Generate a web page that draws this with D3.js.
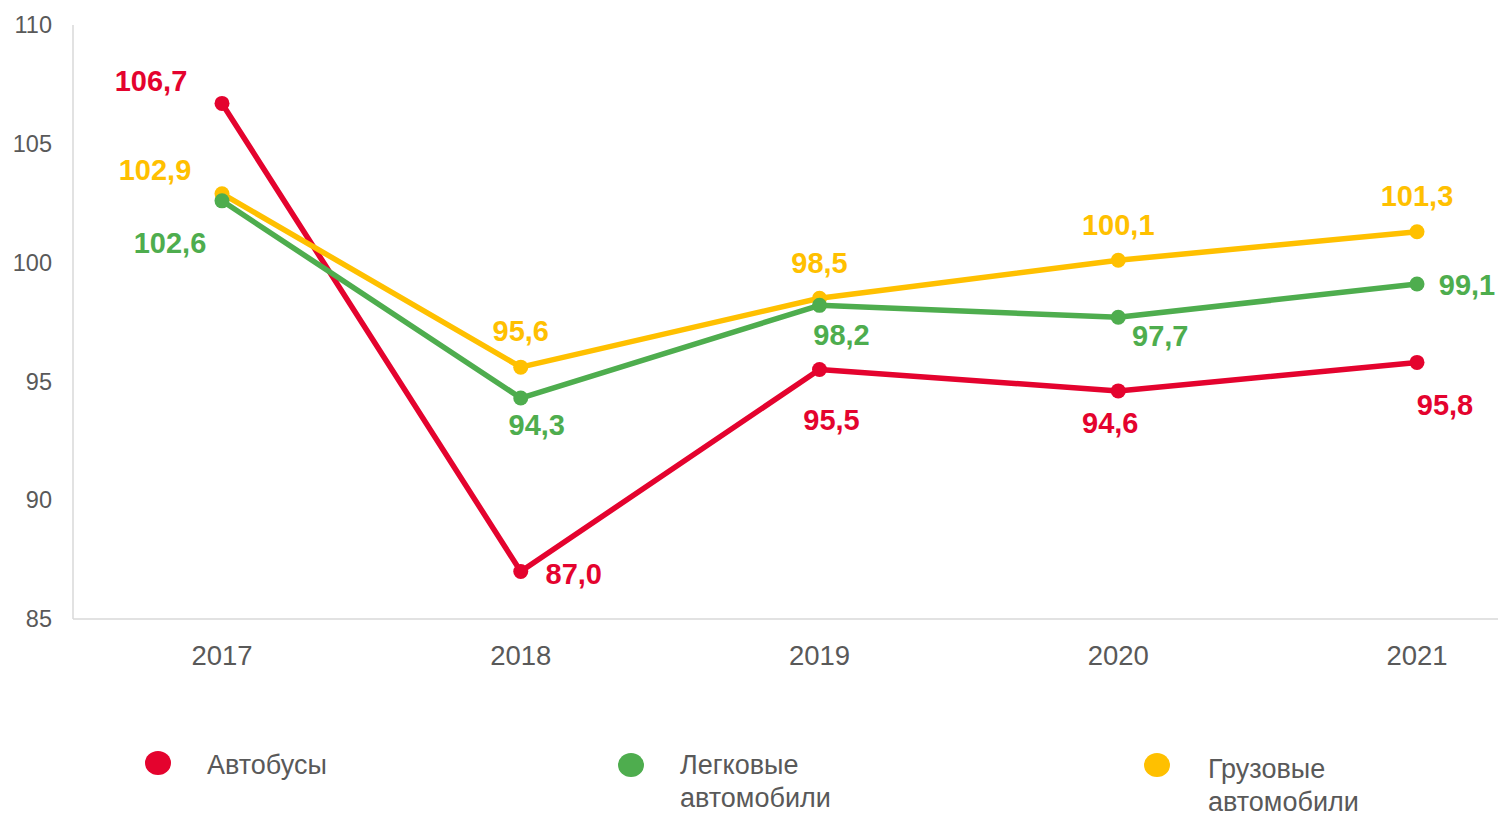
<!DOCTYPE html>
<html><head><meta charset="utf-8">
<script src="https://cdn.jsdelivr.net/npm/d3@7"></script>
<style>
html,body{margin:0;padding:0;background:#fff;}
svg{display:block;font-family:"Liberation Sans",Arial,sans-serif;}
</style></head>
<body>
<svg id="chart" width="1498" height="817"></svg>
<script>
const years = ["2017","2018","2019","2020","2021"];
const busValues = [106.7, 87.0, 95.5, 94.6, 95.8];
const carValues = [102.6, 94.3, 98.2, 97.7, 99.1];
const truckValues = [102.9, 95.6, 98.5, 100.1, 101.3];
const yTicks = [85, 90, 95, 100, 105, 110];
const seriesNames = ["Автобусы", "Легковые автомобили", "Грузовые автомобили"];

const colors = {bus:"#E4032E", car:"#4EAD4E", truck:"#FFC000"};
const series = [
  {key:"bus", name:seriesNames[0], values:busValues, color:colors.bus,
   off:[[-71,-23],[53,2],[12,50],[-8,32],[28,42]]},
  {key:"truck", name:seriesNames[2], values:truckValues, color:colors.truck,
   off:[[-67,-24],[0,-36],[0,-35],[0,-35],[0,-36]]},
  {key:"car", name:seriesNames[1], values:carValues, color:colors.car,
   off:[[-52,42],[16,27],[22,29],[42,19],[50,1]]}
];

const svg = d3.select("#chart");
const x = d3.scalePoint().domain(years).range([222, 1417]);
const y = d3.scaleLinear().domain([85, 110]).range([619, 25]);

// axes lines
svg.append("line").attr("x1",73).attr("x2",73).attr("y1",y(110)).attr("y2",y(85))
  .attr("stroke","#d9d9d9").attr("stroke-width",1.5);
svg.append("line").attr("x1",73).attr("x2",1498).attr("y1",y(85)).attr("y2",y(85))
  .attr("stroke","#d9d9d9").attr("stroke-width",1.5);

// y tick labels
svg.append("g").selectAll("text").data(yTicks).join("text")
  .attr("x",52).attr("y",d=>y(d)).attr("dy","0.35em")
  .attr("text-anchor","end").attr("font-size",23.5).attr("fill","#595959")
  .text(d=>d);

// x tick labels
svg.append("g").selectAll("text").data(years).join("text")
  .attr("x",d=>x(d)).attr("y",655).attr("dy","0.35em")
  .attr("text-anchor","middle").attr("font-size",27.5).attr("fill","#595959")
  .text(d=>d);

const line = d3.line().x((d,i)=>x(years[i])).y(d=>y(d));
const fmt = v => v.toFixed(1).replace(".", ",");

series.forEach(s=>{
  svg.append("path").datum(s.values).attr("d",line)
    .attr("fill","none").attr("stroke",s.color).attr("stroke-width",5.5)
    .attr("stroke-linejoin","round");
  svg.append("g").selectAll("circle").data(s.values).join("circle")
    .attr("cx",(d,i)=>x(years[i])).attr("cy",d=>y(d)).attr("r",7.5)
    .attr("fill",s.color);
});
series.forEach(s=>{
  svg.append("g").selectAll("text").data(s.values).join("text")
    .attr("x",(d,i)=>x(years[i])+s.off[i][0])
    .attr("y",(d,i)=>y(d)+s.off[i][1])
    .attr("dy","0.35em").attr("text-anchor","middle")
    .attr("font-size",29).attr("font-weight","bold").attr("fill",s.color)
    .text(d=>fmt(d));
});

// legend
const legend = [
  {name:seriesNames[0], color:colors.bus, cx:158, cy:763, tx:207, ty:765},
  {name:seriesNames[1], color:colors.car, cx:631, cy:765, tx:680, ty:765},
  {name:seriesNames[2], color:colors.truck, cx:1157, cy:765, tx:1208, ty:769}
];
legend.forEach(l=>{
  svg.append("ellipse").attr("cx",l.cx).attr("cy",l.cy).attr("rx",13).attr("ry",12).attr("fill",l.color);
  const words = l.name.split(" ");
  const t = svg.append("text").attr("x",l.tx).attr("y",l.ty)
    .attr("font-size",27).attr("fill","#595959")
    .attr("font-family","'Liberation Sans Narrow','Arial Narrow',sans-serif");
  words.forEach((w,i)=>{
    t.append("tspan").attr("x",l.tx).attr("dy", i===0 ? "0.35em" : 33).text(w);
  });
});
</script>
</body></html>
